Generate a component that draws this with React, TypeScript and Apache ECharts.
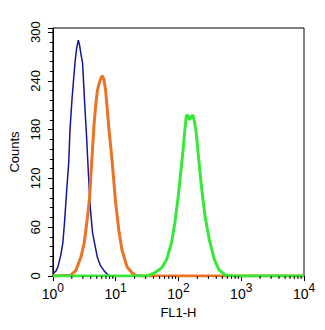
import React, { useEffect, useRef } from "react";
import * as echarts from "echarts";

// FL1-H value, count
const blueHistogram: [number, number][] = [
  [1.0, 3], [1.115, 6], [1.198, 11], [1.337, 26], [1.437, 40], [1.528, 65],
  [1.661, 106], [1.786, 139], [1.872, 180], [2.013, 217], [2.245, 262],
  [2.386, 280], [2.54, 290], [2.66, 284], [2.81, 272], [2.97, 262],
  [3.19, 216], [3.43, 173], [3.69, 124], [3.97, 81], [4.27, 54], [4.59, 41],
  [5.11, 23], [5.7, 13], [6.59, 6], [7.62, 1], [8.81, 0], [10000, 0],
];

const orangeHistogram: [number, number][] = [
  [1.0, 0], [1.94, 1], [2.33, 7], [2.79, 23], [3.16, 41], [3.56, 73],
  [3.83, 95], [4.11, 135], [4.54, 188], [4.81, 210], [5.11, 228], [5.5, 238],
  [5.97, 245], [6.13, 246], [6.47, 242], [6.91, 229], [7.81, 181],
  [8.81, 140], [9.93, 92], [11.2, 57], [12.6, 32], [15.2, 11], [18.2, 4],
  [20.3, 1], [26.1, 0], [10000, 0],
];

const greenHistogram: [number, number][] = [
  [1.0, 0], [29.2, 0], [34.0, 1], [42.4, 4], [54.0, 10], [64.7, 20],
  [77.6, 41], [87.5, 65], [98.9, 97], [108.7, 127], [118.6, 155],
  [126.6, 180], [133.6, 197], [141.2, 198], [150.7, 192], [160.2, 196],
  [170.3, 198], [181.8, 188], [191.9, 176], [216.3, 134], [238.7, 102],
  [266.2, 73], [311.2, 44], [373.2, 20], [447, 7], [570, 1], [735, 0],
  [10000, 0],
];

const yTickValues = [0, 60, 120, 180, 240, 300];
const decades = [1, 10, 100, 1000];
const minorMultipliers = [2, 3, 4, 5, 6, 7, 8, 9];

const FONT = "'Liberation Sans', Arial, Helvetica, sans-serif";

export default function App() {
  const ref = useRef<HTMLDivElement>(null);

  useEffect(() => {
    if (!ref.current) return;
    const chart = echarts.init(ref.current, undefined, { renderer: "svg" });

    const minorTicks: number[][] = [];
    decades.forEach((d) => minorMultipliers.forEach((m) => minorTicks.push([d * m, 0])));

    chart.setOption({
      animation: false,
      backgroundColor: "#ffffff",
      grid: {
        left: 50,
        right: 21,
        top: 28,
        bottom: 54,
        show: true,
        borderColor: "#000",
        borderWidth: 1,
        backgroundColor: "transparent",
      },
      xAxis: {
        type: "log",
        logBase: 10,
        min: 1,
        max: 10000,
        name: "FL1-H",
        nameLocation: "middle",
        nameGap: 27,
        nameTextStyle: { color: "#000", fontSize: 13, fontFamily: FONT },
        axisLine: { show: true, lineStyle: { color: "#000", width: 1 } },
        axisTick: { show: true, length: 5, lineStyle: { color: "#000" } },
        splitLine: { show: false },
        axisLabel: {
          margin: 6,
          color: "#000",
          fontFamily: FONT,
          formatter: (v: number) => `{b|10}{s|${Math.round(Math.log10(v))}}`,
          rich: {
            b: { fontSize: 14, fontFamily: FONT, color: "#000", lineHeight: 19, verticalAlign: "bottom" },
            s: { fontSize: 12, fontFamily: FONT, color: "#000", lineHeight: 12, verticalAlign: "top" },
          },
        },
      },
      yAxis: {
        type: "value",
        min: 0,
        max: 305,
        interval: 60,
        name: "Counts",
        nameLocation: "middle",
        nameGap: 30,
        nameRotate: 90,
        nameTextStyle: { color: "#000", fontSize: 13, fontFamily: FONT },
        axisLine: { show: true, lineStyle: { color: "#000", width: 1 } },
        axisTick: { show: true, length: 5, lineStyle: { color: "#000" } },
        minorTick: { show: true, splitNumber: 5, length: 3, lineStyle: { color: "#000" } },
        splitLine: { show: false },
        axisLabel: {
          rotate: 90,
          margin: 11,
          color: "#000",
          fontSize: 13,
          fontFamily: FONT,
          showMaxLabel: false,
          formatter: (v: number) => (yTickValues.includes(v) ? String(v) : ""),
        },
      },
      series: [
        {
          type: "line",
          data: blueHistogram,
          showSymbol: false,
          symbol: "none",
          lineStyle: { color: "#15159a", width: 1.5 },
        },
        {
          type: "line",
          data: orangeHistogram,
          showSymbol: false,
          symbol: "none",
          lineStyle: { color: "#ec7224", width: 3 },
        },
        {
          type: "line",
          data: greenHistogram,
          showSymbol: false,
          symbol: "none",
          lineStyle: { color: "#38e838", width: 3 },
        },
        {
          type: "custom",
          silent: true,
          clip: false,
          data: minorTicks,
          renderItem: (_params: any, api: any) => {
            const p = api.coord([api.value(0), 0]);
            return {
              type: "line",
              shape: { x1: p[0], y1: p[1], x2: p[0], y2: p[1] + 3 },
              style: { stroke: "#000", lineWidth: 1 },
            };
          },
          z: 10,
        },
      ],
    });

    return () => chart.dispose();
  }, []);

  return (
    <div
      ref={ref}
      style={{ position: "fixed", left: 0, top: 0, width: 325, height: 330, background: "#fff" }}
    />
  );
}
